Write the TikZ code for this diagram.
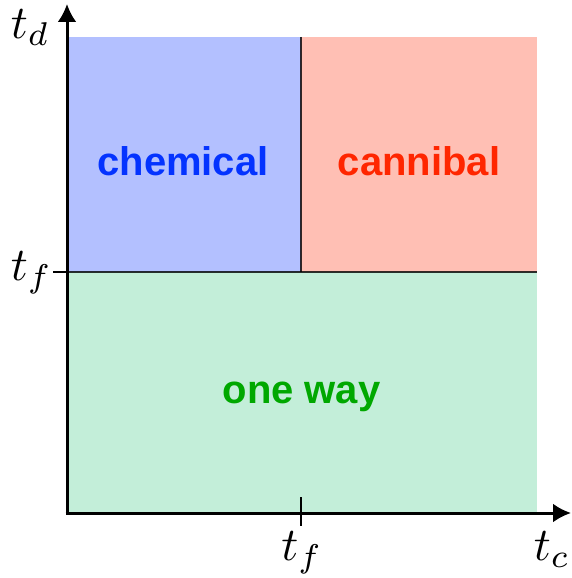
\documentclass[tikz,border=0pt]{standalone}
\usepackage{fontspec}
\newfontfamily\labfont{Liberation Sans}
\usetikzlibrary{arrows.meta}
\definecolor{bluefill}{RGB}{179,192,255}
\definecolor{redfill}{RGB}{255,191,180}
\definecolor{greenfill}{RGB}{195,238,217}
\definecolor{bluetext}{RGB}{4,51,255}
\definecolor{redtext}{RGB}{255,38,0}
\definecolor{greentext}{RGB}{0,168,0}
\tikzset{
  regionlabel/.style={anchor=base,inner sep=0pt,font=\labfont\bfseries\fontsize{40}{40}\selectfont},
  axislabel/.style={inner sep=0pt,scale=4.7},
  axisline/.style={line width=3pt,-{Latex[length=18pt,width=19pt]}},
  divider/.style={line width=2.2pt,draw=black,draw opacity=0.8},
  tickline/.style={line width=1.5pt}
}
\begin{document}
\begin{tikzpicture}[x=1pt,y=-1pt]
\useasboundingbox (0,0) rectangle (571,578);
% regions
\fill[bluefill] (67,37) rectangle (301,272);
\fill[redfill] (301,37) rectangle (537,272);
\fill[greenfill] (67,272) rectangle (537,513);
\coordinate (hl) at (67,272);
\coordinate (hr) at (537,272);
\coordinate (vt) at (301,37);
\coordinate (vb) at (301,272);
\draw[divider] (hl) -- (hr);
\draw[divider] (vt) -- (vb);
% labels
\node[regionlabel,text=bluetext] (chem) at (183,175) {chemical};
\node[regionlabel,text=redtext] (cann) at (419,175) {cannibal};
\node[regionlabel,text=greentext] (oneway) at (301.5,403) {one way};
% axes
\coordinate (ytop) at (67,4);
\coordinate (xend) at (571,513);
\coordinate (ybot) at (67,514.5);
\coordinate (xbeg) at (65.5,513);
\draw[axisline] (ybot) -- (ytop);
\draw[axisline] (xbeg) -- (xend);
% ticks
\coordinate (ytk1) at (53,272);
\coordinate (ytk2) at (67,272);
\draw[tickline] (ytk1) -- (ytk2);
\coordinate (xtk1) at (301,497);
\coordinate (xtk2) at (301,526);
\draw[tickline] (xtk1) -- (xtk2);
% axis labels
\node[axislabel,anchor=base west] (td) at (10,38) {$t_d$};
\node[axislabel,anchor=base west] (tfy) at (10,280) {$t_f$};
\node[axislabel,anchor=base] (tfx) at (302,560) {$t_f$};
\node[axislabel,anchor=base east] (tc) at (571,560) {$t_c$};
\end{tikzpicture}
\end{document}
